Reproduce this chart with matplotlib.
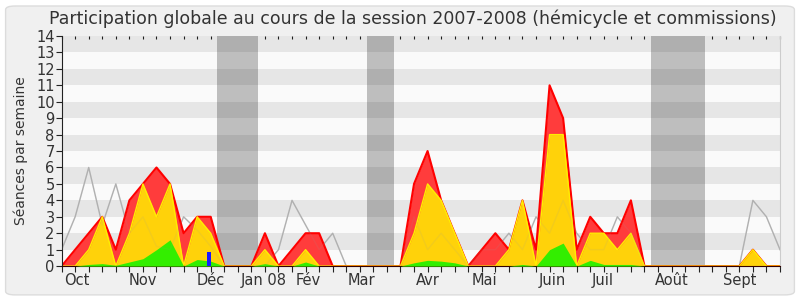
import numpy as np
import matplotlib
matplotlib.use('Agg')
import matplotlib.pyplot as plt
from matplotlib.patches import FancyBboxPatch

# weekly values, session 2007-2008 (54 weeks)
total = [0, 1, 2, 3, 1, 4, 5, 6, 5, 2, 3, 3, 0, 0, 0, 2, 0, 1, 2, 2,
         0, 0, 0, 0, 0, 0, 5, 7, 4, 2, 0, 1, 2, 1, 4, 1, 11, 9, 1, 3,
         2, 2, 4, 0, 0, 0, 0, 0, 0, 0, 0, 1, 0, 0]
hemicycle = [0, 0, 1, 3, 0, 2, 5, 3, 5, 0, 3, 2, 0, 0, 0, 1, 0, 0, 1, 0,
             0, 0, 0, 0, 0, 0, 2, 5, 4, 2, 0, 0, 0, 1, 4, 0, 8, 8, 0, 2,
             2, 1, 2, 0, 0, 0, 0, 0, 0, 0, 0, 1, 0, 0]
commission = [0, 0, 0.1, 0.15, 0.05, 0.25, 0.45, 1.0, 1.6, 0, 0.4, 0.3, 0, 0, 0, 0.15, 0, 0, 0.25, 0,
              0, 0, 0, 0, 0, 0, 0.2, 0.35, 0.3, 0.2, 0, 0, 0, 0, 0.1, 0, 1.0, 1.4, 0, 0.35,
              0.1, 0.1, 0.1, 0, 0, 0, 0, 0, 0, 0, 0, 0, 0, 0]
mediane = [1, 3, 6, 2.5, 5, 2, 3, 1.2, 1, 3, 2.2, 1.2, 0, 0, 0, 0, 1, 4, 2.5, 1,
           2, 0, 0, 0, 0, 0, 3, 1, 2, 1, 0, 1, 1, 2, 1, 3, 2, 4, 2, 1,
           1, 3, 2, 0, 0, 0, 0, 0, 0, 0, 0, 4, 3, 1]
questions_week = [11]
questions = [0.85]
vacances = [(11.5, 14.5), (22.5, 24.5), (43.5, 47.5)]
mois = ['Oct', 'Nov', 'Déc', 'Jan 08', 'Fév', 'Mar', 'Avr', 'Mai', 'Juin', 'Juil', 'Août', 'Sept']
mois_pos = [1.15, 5.97, 11.0, 14.9, 18.2, 22.1, 27.0, 31.2, 36.2, 39.9, 45.0, 50.0]

weeks = np.arange(len(total))

fig = plt.figure(figsize=(8, 3), dpi=100)
fig.patch.set_facecolor('white')
box = FancyBboxPatch((0.007, 0.017), 0.986, 0.963, boxstyle='round,pad=0,rounding_size=0.012',
                     transform=fig.transFigure, facecolor='#f0f0f0', edgecolor='#dcdcdc',
                     linewidth=1, zorder=-10)
fig.patches.append(box)

ax = fig.add_axes([0.077, 0.113, 0.898, 0.767])
ax.set_facecolor('#fafafa')

# stripes + vacation bands
for a, b in vacances:
    ax.axvspan(a, b, color='#bebebe', lw=0, zorder=0.5)
for y in range(1, 14, 2):
    ax.axhspan(y, y + 1, color='black', alpha=0.08, lw=0, zorder=0.6)

# median line: solid under the areas, very faint on top
ax.plot(weeks, mediane, color='#b4b4b4', lw=1, zorder=0.9)
ax.fill_between(weeks, total, color='#ff3c3c', lw=0, zorder=1)
ax.plot(weeks, total, color='#ff0000', lw=1.5, zorder=1.1)
ax.fill_between(weeks, hemicycle, color='#ffd20a', lw=0, zorder=2)
ax.plot(weeks, hemicycle, color='#ffee00', lw=1, zorder=2.1)
ax.fill_between(weeks, commission, color='#33ee00', lw=0, zorder=3)
ax.plot(weeks, mediane, color='#999999', lw=1, alpha=0.12, zorder=4)
ax.bar(questions_week, questions, width=-0.3, align='edge', color='#1a1aff', zorder=5)

ax.set_xlim(0, len(total) - 1)
ax.set_ylim(0, 14)
ax.set_yticks(range(0, 15))
ax.set_xticks(weeks)
ax.set_xticklabels([])
ax.tick_params(axis='x', direction='out', length=4, color='#222222')
ax.tick_params(axis='y', direction='out', length=4, color='#222222', labelsize=10.5,
               labelcolor='#333333', pad=1)
top = ax.secondary_xaxis('top')
top.set_xticks(weeks)
top.set_xticklabels([])
top.tick_params(direction='in', length=2, color='#222222')
top.spines['top'].set_visible(False)

for m, p in zip(mois, mois_pos):
    ax.text(p, -0.45, m, ha='center', va='top', fontsize=10.5, color='#333333')

ax.spines['top'].set_visible(False)
ax.spines['right'].set_color('#cccccc')
ax.spines['left'].set_color('#222222')
ax.spines['bottom'].set_color('#330000')

ax.set_ylabel('Séances par semaine', fontsize=10, color='#333333', labelpad=6)
fig.text(0.516, 0.937, 'Participation globale au cours de la session 2007-2008 (hémicycle et commissions)',
         ha='center', va='center', fontsize=12.5, color='#333333')

fig.savefig('out.png', dpi=100)
